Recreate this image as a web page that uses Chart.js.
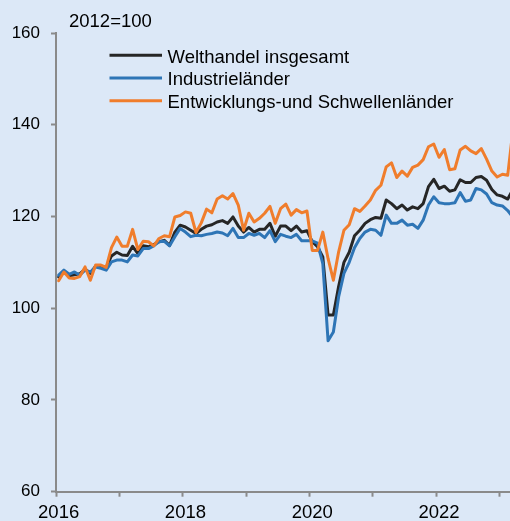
<!DOCTYPE html>
<html><head><meta charset="utf-8">
<script src="https://cdn.jsdelivr.net/npm/chart.js@4"></script>
<style>html,body{margin:0;padding:0;background:#dce8f7;overflow:hidden;width:510px;height:521px}canvas{display:block}</style>
</head><body>
<canvas id="c" width="518" height="521"></canvas>
<script>
// ---- data ----
const unitLabel = '2012=100';
const seriesNames = ['Welthandel insgesamt', 'Industrieländer', 'Entwicklungs-und Schwellenländer'];
const months = [];
for (let y = 2016; y <= 2023; y++) for (let m = 1; m <= 12; m++) months.push(y + '-' + String(m).padStart(2, '0'));
months.length = 87; // Jan 2016 .. Mar 2023 (the last month is cut by the page edge)
const xTickYears = ['2016', '2018', '2020', '2022'];
const yMin = 60, yMax = 160, yStep = 20;

const world = [
  106.8,107.9,107.1,107.3,107.5,108.5,107.6,109.2,109.1,108.9,111.4,112.2,
  111.6,111.5,113.5,111.9,113.6,113.4,113.9,114.5,114.8,113.7,116.6,118.1,
  117.7,117.0,116.3,117.2,117.9,118.2,118.8,119.1,118.5,119.9,117.9,116.6,
  117.6,116.6,117.2,117.2,118.5,115.7,117.9,117.9,116.9,117.9,116.6,116.9,
  114.5,113.4,111.2,98.5,98.5,104.8,110.0,112.2,115.8,117.0,118.5,119.3,
  119.8,119.6,123.6,122.8,121.7,122.5,121.4,122.1,121.7,122.8,126.5,128.1,
  126.1,126.6,125.5,125.8,128.0,127.4,127.4,128.5,128.7,127.9,125.9,124.7,
  124.4,123.8,125.9
];
const advanced = [
  107.2,108.3,107.4,107.9,107.2,108.3,107.9,109.0,108.7,108.3,110.1,110.5,
  110.5,110.1,111.6,111.4,113.0,113.0,113.6,114.5,114.6,113.6,115.6,117.4,
  116.6,115.6,115.9,115.8,116.1,116.3,116.6,116.4,115.8,117.4,115.4,115.4,
  116.3,115.9,116.3,115.4,116.9,114.5,116.1,115.7,115.4,116.1,114.7,114.7,
  114.7,114.2,109.7,92.9,94.8,102.5,107.6,110.0,113.2,115.2,116.6,117.2,
  117.0,115.9,120.3,118.5,118.5,119.2,118.1,118.3,117.4,119.2,122.5,124.3,
  123.0,122.8,122.8,123.0,125.2,123.3,123.6,126.1,125.8,124.9,123.0,122.5,
  122.3,121.3,119.8
];
const emerging = [
  106.0,107.9,106.6,106.5,106.9,109.0,106.1,109.4,109.4,108.9,113.2,115.5,
  113.5,113.5,117.2,112.8,114.6,114.5,113.6,115.2,115.8,115.6,119.9,120.2,
  121.0,120.7,116.5,118.6,121.6,120.8,123.8,124.5,123.8,125.0,122.5,117.0,
  120.7,118.8,119.6,120.7,122.2,118.5,121.7,122.7,120.3,121.5,120.8,121.2,
  112.6,112.6,116.6,110.8,106.1,112.3,117.0,118.2,121.7,121.1,122.3,123.6,
  125.7,126.8,130.8,131.7,128.5,129.9,128.8,130.7,131.2,132.4,135.2,135.8,
  132.9,134.6,130.2,130.4,134.5,135.3,134.3,133.7,134.8,132.5,129.9,128.6,
  129.2,129.0,139.0
];

// ---- style ----
const FONT = "'Liberation Sans', Arial, Helvetica, sans-serif";
const AXIS = '#8a8a8a';
const COLORS = ['#262626', '#2e75b6', '#f07d2c'];

const overlay = {
  id: 'overlay',
  afterDraw(chart) {
    const ctx = chart.ctx;
    ctx.save();
    ctx.font = '18.5px ' + FONT;
    ctx.fillStyle = '#000';
    ctx.textBaseline = 'alphabetic';
    ctx.textAlign = 'left';
    ctx.fillText(unitLabel, 69, 26.7);
    chart.data.datasets.forEach((ds, i) => {
      const y = 55.3 + i * 22.7;
      ctx.strokeStyle = ds.borderColor;
      ctx.lineWidth = 3;
      ctx.beginPath();
      ctx.moveTo(109.5, y);
      ctx.lineTo(162, y);
      ctx.stroke();
      ctx.fillText(ds.label, 167.5, y + 7.2);
    });
    ctx.restore();
  }
};

const mk = (label, data, color, order) => ({
  label, data, borderColor: color, backgroundColor: color, borderWidth: 3,
  pointRadius: 0, tension: 0, fill: false, order,
  borderJoinStyle: 'round', borderCapStyle: 'round'
});

new Chart(document.getElementById('c'), {
  type: 'line',
  data: {
    labels: months,
    datasets: [
      mk(seriesNames[0], world, COLORS[0], 3),
      mk(seriesNames[1], advanced, COLORS[1], 2),
      mk(seriesNames[2], emerging, COLORS[2], 1)
    ]
  },
  options: {
    responsive: false,
    animation: false,
    devicePixelRatio: 1,
    layout: { padding: { top: 33, left: 0, right: 0, bottom: 0 } },
    plugins: { legend: { display: false }, tooltip: { enabled: false }, title: { display: false } },
    scales: {
      x: {
        type: 'category',
        offset: true,
        border: { display: true, color: AXIS, width: 2 },
        grid: {
          offset: true, drawOnChartArea: false, drawTicks: true, tickLength: 5, tickWidth: 2,
          tickColor: (ctx) => (ctx.index !== undefined && ctx.index % 12 === 0) ? AXIS : 'rgba(0,0,0,0)'
        },
        ticks: {
          autoSkip: false, maxRotation: 0, minRotation: 0, padding: 5, color: '#000',
          font: { family: FONT, size: 18.5 },
          callback: function (value) {
            const lab = this.getLabelForValue(value);
            const [yr, mo] = lab.split('-');
            return (mo === '01' && xTickYears.includes(yr)) ? yr : '';
          }
        },
        afterFit: (s) => { s.height = 29.3; }
      },
      y: {
        min: yMin, max: yMax,
        border: { display: true, color: AXIS, width: 2 },
        grid: { drawOnChartArea: false, drawTicks: true, tickLength: 5, tickWidth: 2, tickColor: AXIS },
        ticks: { stepSize: yStep, padding: 11, color: '#000', font: { family: FONT, size: 17 } },
        afterFit: (s) => { s.width = 56; }
      }
    }
  },
  plugins: [overlay]
});
</script>
</body></html>
